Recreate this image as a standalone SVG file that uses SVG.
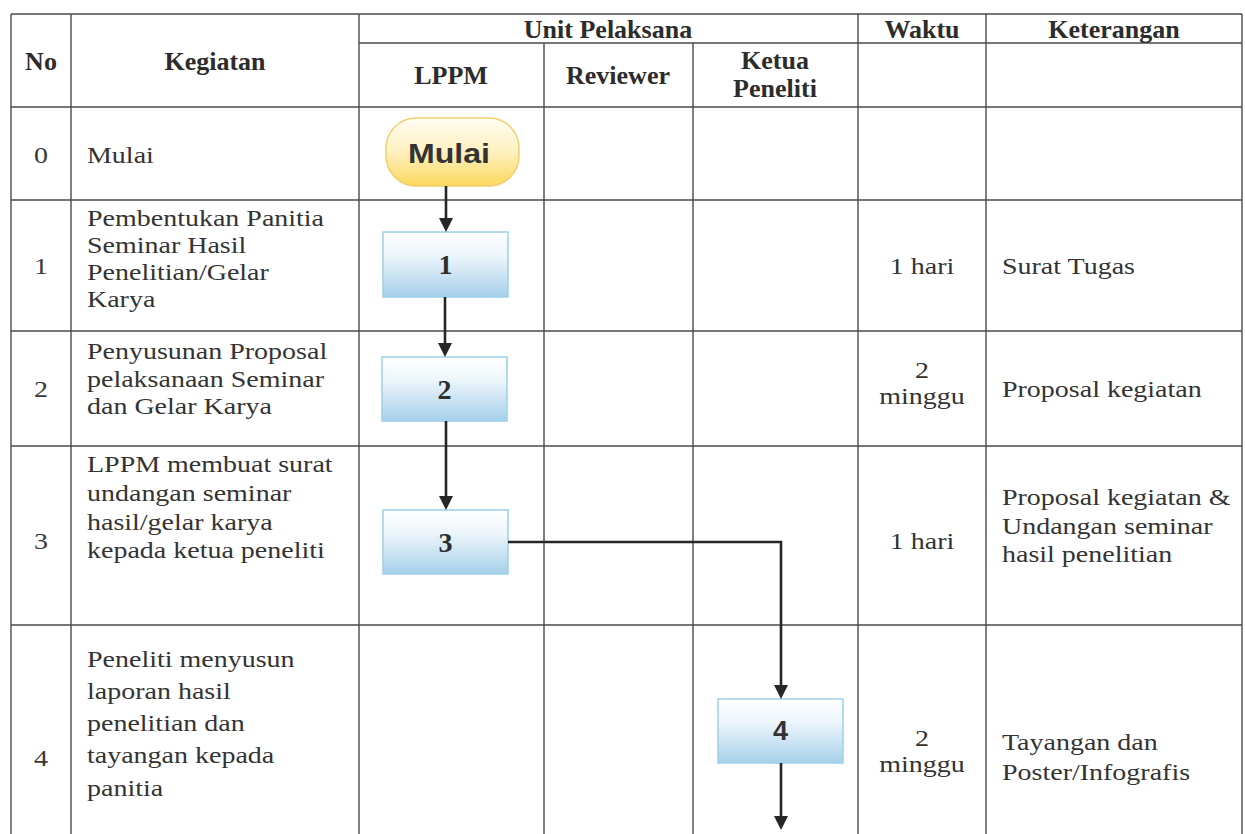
<svg xmlns="http://www.w3.org/2000/svg" width="1245" height="834" viewBox="0 0 1245 834">
<style>
.grid line{stroke:#4a4a4a;stroke-width:1.4}
.t{font-family:"Liberation Serif","Times New Roman",serif;font-size:23px;fill:#333333}
.n{font-family:"Liberation Serif","Times New Roman",serif;font-size:23px;fill:#383838;text-anchor:middle}
.c{text-anchor:middle}
.h{font-family:"Liberation Serif","Times New Roman",serif;font-size:26px;font-weight:bold;fill:#2c2c2c;text-anchor:middle}
.box{fill:url(#gBlue);stroke:#9ccfea;stroke-width:1.5}
.bl{font-family:"Liberation Serif","Times New Roman",serif;font-size:28px;font-weight:bold;fill:#2e2e2e;text-anchor:middle}
.bs{font-family:"Liberation Sans",Arial,sans-serif;font-size:27px;font-weight:bold;fill:#333;text-anchor:middle}
.conn path{fill:none;stroke:#262626;stroke-width:2.6}
</style>
<defs>
<linearGradient id="gBlue" x1="0" y1="0" x2="0" y2="1">
<stop offset="0" stop-color="#ffffff"/>
<stop offset="0.35" stop-color="#eef6fb"/>
<stop offset="1" stop-color="#a6d0ea"/>
</linearGradient>
<linearGradient id="gYel" x1="0" y1="0" x2="0" y2="1">
<stop offset="0" stop-color="#fffdf3"/>
<stop offset="0.5" stop-color="#fff0c0"/>
<stop offset="1" stop-color="#fbd85c"/>
</linearGradient>
<marker id="arr" viewBox="0 0 10 10" refX="5.7" refY="5" markerWidth="14" markerHeight="14" markerUnits="userSpaceOnUse" orient="auto">
<path d="M0,0 L10,5 L0,10 z" fill="#262626"/>
</marker>
</defs>
<rect width="1245" height="834" fill="#ffffff"/>
<g class="grid">
<line x1="11" y1="14" x2="1242" y2="14"/>
<line x1="359" y1="43" x2="1242" y2="43"/>
<line x1="11" y1="107" x2="1242" y2="107"/>
<line x1="11" y1="200" x2="1242" y2="200"/>
<line x1="11" y1="331" x2="1242" y2="331"/>
<line x1="11" y1="446" x2="1242" y2="446"/>
<line x1="11" y1="625" x2="1242" y2="625"/>
<line x1="11" y1="14" x2="11" y2="834"/>
<line x1="71" y1="14" x2="71" y2="834"/>
<line x1="359" y1="14" x2="359" y2="834"/>
<line x1="544" y1="43" x2="544" y2="834"/>
<line x1="693" y1="43" x2="693" y2="834"/>
<line x1="858" y1="14" x2="858" y2="834"/>
<line x1="986" y1="14" x2="986" y2="834"/>
<line x1="1242" y1="14" x2="1242" y2="834"/>
</g>
<g id="header">
<text class="h" x="41" y="70">No</text>
<text class="h" x="215" y="70">Kegiatan</text>
<text class="h" x="608" y="38">Unit Pelaksana</text>
<text class="h" x="922" y="38">Waktu</text>
<text class="h" x="1114" y="38">Keterangan</text>
<text class="h" x="451" y="84">LPPM</text>
<text class="h" x="618" y="84">Reviewer</text>
<text class="h" x="775" y="69">Ketua</text>
<text class="h" x="775" y="97">Peneliti</text>
</g>
<g id="cells" transform="scale(1.2174 1)">
<g id="row0">
<text class="n" x="33.68" y="163">0</text>
<text class="t" x="71.46" y="163">Mulai</text>
</g>
<g id="row1">
<text class="n" x="33.68" y="274">1</text>
<text class="t" x="71.46" y="226">Pembentukan Panitia</text>
<text class="t" x="71.46" y="253">Seminar Hasil</text>
<text class="t" x="71.46" y="280">Penelitian/Gelar</text>
<text class="t" x="71.46" y="307">Karya</text>
<text class="t c" x="757.35" y="274">1 hari</text>
<text class="t" x="823.06" y="274">Surat Tugas</text>
</g>
<g id="row2">
<text class="n" x="33.68" y="397">2</text>
<text class="t" x="71.46" y="359">Penyusunan Proposal</text>
<text class="t" x="71.46" y="387">pelaksanaan Seminar</text>
<text class="t" x="71.46" y="414">dan Gelar Karya</text>
<text class="t c" x="757.35" y="378">2</text>
<text class="t c" x="757.35" y="404">minggu</text>
<text class="t" x="823.06" y="397">Proposal kegiatan</text>
</g>
<g id="row3">
<text class="n" x="33.68" y="549">3</text>
<text class="t" x="71.46" y="472">LPPM membuat surat</text>
<text class="t" x="71.46" y="501">undangan seminar</text>
<text class="t" x="71.46" y="530">hasil/gelar karya</text>
<text class="t" x="71.46" y="558">kepada ketua peneliti</text>
<text class="t c" x="757.35" y="549">1 hari</text>
<text class="t" x="823.06" y="505">Proposal kegiatan &amp;</text>
<text class="t" x="823.06" y="534">Undangan seminar</text>
<text class="t" x="823.06" y="562">hasil penelitian</text>
</g>
<g id="row4">
<text class="n" x="33.68" y="766">4</text>
<text class="t" x="71.46" y="667">Peneliti menyusun</text>
<text class="t" x="71.46" y="699">laporan hasil</text>
<text class="t" x="71.46" y="731">penelitian dan</text>
<text class="t" x="71.46" y="763">tayangan kepada</text>
<text class="t" x="71.46" y="796">panitia</text>
<text class="t c" x="757.35" y="746">2</text>
<text class="t c" x="757.35" y="772">minggu</text>
<text class="t" x="823.06" y="750">Tayangan dan</text>
<text class="t" x="823.06" y="780">Poster/Infografis</text>
</g>
</g>
<g id="node-mulai">
<rect x="386" y="118" width="133" height="68" rx="30" ry="30" fill="url(#gYel)" stroke="#f0cf70" stroke-width="1.5"/>
<text class="bs" x="449" y="163" font-size="26" textLength="82" lengthAdjust="spacingAndGlyphs">Mulai</text>
</g>
<g id="node-1">
<rect class="box" x="383" y="232" width="125" height="65"/>
<text class="bl" x="445.5" y="274">1</text>
</g>
<g id="node-2">
<rect class="box" x="382" y="357" width="125" height="64"/>
<text class="bl" x="444.5" y="399">2</text>
</g>
<g id="node-3">
<rect class="box" x="383" y="510" width="125" height="64"/>
<text class="bl" x="445.5" y="552">3</text>
</g>
<g id="node-4">
<rect class="box" x="718" y="699" width="125" height="64"/>
<text class="bs" x="780.5" y="740">4</text>
</g>
<g class="conn" id="connectors">
<path d="M446,186 L446,226" marker-end="url(#arr)"/>
<path d="M445,297 L445,351" marker-end="url(#arr)"/>
<path d="M446,421 L446,504" marker-end="url(#arr)"/>
<path d="M508,542 L781,542 L781,693" marker-end="url(#arr)"/>
<path d="M781,763 L781,824" marker-end="url(#arr)"/>
</g>
</svg>
